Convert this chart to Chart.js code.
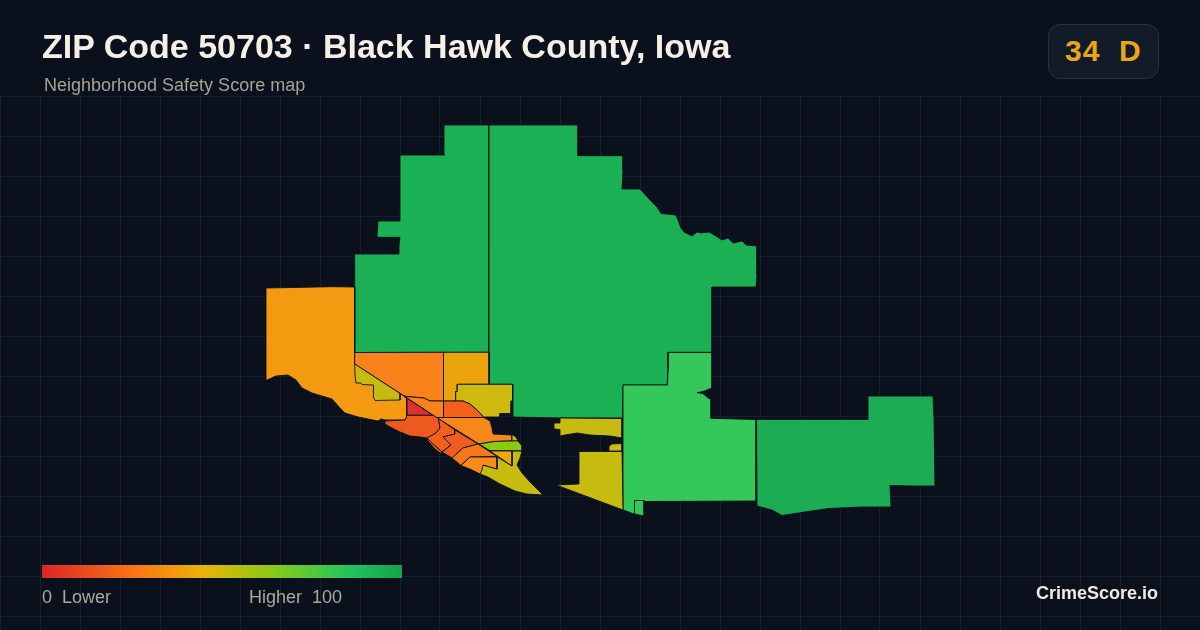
<!DOCTYPE html>
<html lang="en">
<head>
<meta charset="utf-8">
<title>ZIP Code 50703 · Black Hawk County, Iowa</title>
<script src="https://cdn.jsdelivr.net/npm/chart.js@4"></script>
<style>
html,body{margin:0;padding:0;background:#0a111c;width:1200px;height:630px;overflow:hidden}
#wrap{position:relative;width:1200px;height:630px;font-family:"Liberation Sans",Arial,sans-serif}
canvas{position:absolute;left:0;top:0}
.t{position:absolute;white-space:pre;line-height:1}
#title{left:42px;top:29px;font-size:34px;font-weight:700;color:#f5efe6}
#sub{left:44px;top:76px;font-size:18px;color:#a8a295}
#badge{position:absolute;left:1048px;top:24px;width:109px;height:53px;background:#111c28;border:1px solid #26333f;border-radius:12px}
#score{left:1065px;top:36px;font-size:30px;font-weight:700;color:#eca41a;letter-spacing:1px}
#ramp{position:absolute;left:42px;top:565px;width:360px;height:13px;background:linear-gradient(90deg,#dc2626 0%,#f97316 25%,#eab308 45%,#84cc16 65%,#22c55e 85%,#16a34a 100%)}
#lo{left:42px;top:588px;font-size:18px;color:#aea89c}
#hi{left:249px;top:588px;font-size:18px;color:#aea89c}
#brand{left:1036px;top:584px;font-size:18px;font-weight:700;color:#f0ece4}
</style>
</head>
<body>
<div id="wrap">
<canvas id="c" width="1200" height="630"></canvas>
<div class="t" id="title">ZIP Code 50703 · Black Hawk County, Iowa</div>
<div class="t" id="sub">Neighborhood Safety Score map</div>
<div id="badge"></div>
<div class="t" id="score">34  D</div>
<div id="ramp"></div>
<div class="t" id="lo">0  Lower</div>
<div class="t" id="hi">Higher  100</div>
<div class="t" id="brand">CrimeScore.io</div>
</div>
<script>
const xGridTicks = [0,40,80,120,160,200,240,280,320,360,400,440,480,520,560,600,640,680,720,760,800,840,880,920,960,1000,1040,1080,1120,1160,1200];
const yGridTicks = [96,136,176,216,256,296,336,376,416,456,496,536,576,616];

const northWest = [[444,125],[489,125],[489,237],[488.5,352.3],[354.7,352.5],[354.7,254],[399,254],[399,245],[400,237.3],[377,237.3],[378,221],[400,221],[400,155],[444.7,155],[444,140]];
const central = [[489,125],[578,125],[578,155.7],[623,155.7],[623,171],[622,189],[640,189],[650,200],[657,207],[661,213.5],[676,215],[678,220],[681,228],[684,232],[692,236],[697,232],[701,233],[709,232],[716,236],[722,240],[728,238],[733,243],[742,241],[746,245],[757,246],[757,275],[756,287],[712,287],[712,352.3],[668,352.3],[668,369],[667,385],[623,385],[622.5,418],[560,418],[513,417],[513,384.3],[489,384.3]];
const southCentral = [[668.5,352.5],[712,352.5],[712,388],[703,391.5],[697,392.7],[703,393.5],[708,398],[711,399],[711,418.3],[756,419.5],[756,501],[645,501.5],[644,516],[634,514],[623.3,510],[623,385],[667.5,385],[668,370]];
const southTab = [[634.5,500.5],[644,500.5],[644,516],[634.5,514]];
const east = [[756.5,419.5],[868,419.5],[868,396],[933,396],[934,418],[935,486],[913,486],[890,485.5],[891,507],[861,507],[828,508.5],[782,515.5],[772,510],[757,506]];
const westOrange = [[266,288],[332,286.7],[354.7,287],[354.7,364],[403,395.3],[407,399],[407,416],[405,420],[385,420],[381,419],[378,421],[358,417],[345,413],[340,408],[332,399],[322,396],[312,393],[302,388],[296,380],[288,375],[276,376],[266,380.5],[266,350]];
const northOrange = [[354.7,352.5],[443.5,352.3],[443.5,401],[430,401],[424,398],[406,396.5],[403,395.3],[354.7,364]];
const amber = [[443.5,352.3],[489,352.3],[489,384.3],[457.3,384.3],[457.3,391.5],[455.7,391.5],[455.7,401],[443.5,401]];
const yellowWest = [[354.7,364],[400,393.4],[400,400],[375,400.5],[373,396],[373.5,385],[362,384.5],[361,383],[356,383],[355,375]];
const yellowNorth = [[457.3,384.3],[512.5,384.3],[512.5,400],[511.5,401],[511,417],[510,413.5],[500,413.5],[500,417],[484,417],[478,411],[470,404],[463,401],[455.7,401],[455.7,391.5],[457.3,391.5]];
const topRed = [[443.5,401],[463,401],[470,404],[478,411],[484,417.5],[443.5,417.5]];
const topOrange = [[406,396.5],[424,398],[430,401],[443.5,401],[443.5,417.5],[436.5,417.5],[403,395.3]];
const redTriangle = [[406.7,398],[406.7,415.3],[433,415.3]];
const midOrange = [[436.5,417.5],[484,417.5],[490,421],[492,428],[493,434],[512,435],[512,441],[494,441.5],[479,444]];
const yellowBit = [[512,434.5],[516,437],[518,441],[512,441]];
const greenBand = [[479,444],[494,441.5],[510,441],[518,441],[522,446],[522,450.7],[490,450.7]];
const amberWedge = [[490,451],[512,451],[512,466]];
const yellowSouth = [[496.5,456.5],[512,466],[512,451],[522,451],[520,458],[517,465],[522,473],[530,482],[533,485],[543,495],[527,494],[515,491],[500,484],[488,477],[480,474],[483,465],[497,469]];
const coastRed = [[385,421],[405,420],[407,415.3],[433,415.3],[438.5,418.5],[440,428],[436,433],[427,438],[420,437],[410,436],[400,432],[392,428],[385,424]];
const stripRed = [[438.5,418.5],[455,430],[455,434],[443,437],[451,445],[442,452],[433,444],[427,438],[436,433],[440,428]];
const stripEdge = [[427,438],[433,444],[442,452],[441,453.5],[435,449],[428,441]];
const stripMid = [[455,430],[478,444],[463,448],[452,458],[442,452],[451,445],[443,437],[455,434]];
const stripOrange = [[478,444],[497,456.5],[470,457],[461,465.5],[452,458],[463,448]];
const stripLight = [[470,457],[497,457],[497,469],[483,465],[482,470],[480,474],[472,470],[461,465.5]];
const yellowIsle = [[560,418],[622,418.5],[622,438],[610,436],[590,435],[577,433],[565,435],[560,436],[560,429.5],[554,429],[554,423],[560,423]];
const yellowSliver = [[609,446],[612,444],[622,443.5],[622,451],[609,451]];
const yellowWedge = [[579,451.5],[622,451.5],[623,510],[556,485],[579,484]];

const zones = [northWest,central,southCentral,southTab,east,westOrange,northOrange,amber,yellowWest,yellowNorth,topRed,topOrange,redTriangle,midOrange,yellowBit,yellowSouth,greenBand,amberWedge,coastRed,stripRed,stripEdge,stripMid,stripOrange,stripLight,yellowIsle,yellowSliver,yellowWedge];
const zoneColors = ['#1cb054','#1cb054','#34c759','#34c759','#1bac54','#f49a10','#f9831a','#eca40c','#c8bb10','#cdb90f','#f2601c','#f9831a','#e0302e','#f6871a','#c8bb10','#c8bb10','#8ac914','#edaa0e','#ee5a1e','#f2601c','#f2601c','#ef5d1d','#f7781a','#f98a1c','#c8bb10','#d2b80e','#c8bb10'];

const datasets = zones.map((poly,i)=>({
  data:[...poly,poly[0]].map(p=>({x:p[0],y:p[1]})),
  showLine:true,fill:'shape',backgroundColor:zoneColors[i],borderColor:'#0b121d',borderWidth:0.9,
  pointRadius:0,pointHoverRadius:0,tension:0,order:zones.length-i
}));

const headerMask = {id:'headerMask',beforeDatasetsDraw(chart){const c=chart.ctx;c.save();c.fillStyle='#0a111c';c.fillRect(0,0,1200,95.5);c.restore();}};

new Chart(document.getElementById('c'),{
  type:'scatter',
  data:{datasets},
  plugins:[headerMask],
  options:{
    responsive:false,animation:false,events:[],
    layout:{padding:0},
    plugins:{legend:{display:false},tooltip:{enabled:false},title:{display:false}},
    scales:{
      x:{type:'linear',min:0,max:1200,afterBuildTicks(a){a.ticks=xGridTicks.map(v=>({value:v}));},
        ticks:{display:false},border:{display:false},grid:{color:'#142230',lineWidth:1,drawTicks:false}},
      y:{type:'linear',min:0,max:630,reverse:true,afterBuildTicks(a){a.ticks=yGridTicks.map(v=>({value:v}));},
        ticks:{display:false},border:{display:false},grid:{color:'#142230',lineWidth:1,drawTicks:false}}
    }
  }
});
</script>
</body>
</html>
